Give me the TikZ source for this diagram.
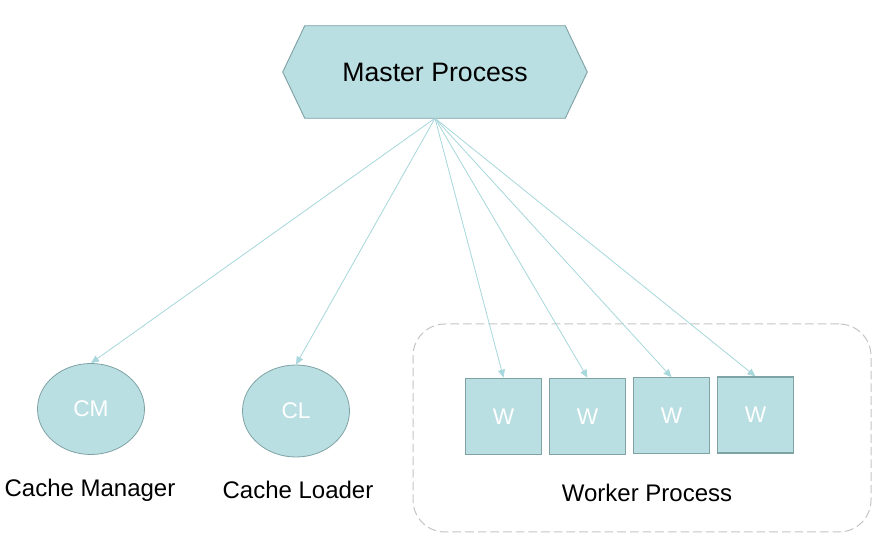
\documentclass[tikz,border=0pt]{standalone}
\usepackage{fontspec}
\setmainfont{Liberation Sans}
\usetikzlibrary{arrows.meta,positioning,shapes.geometric,backgrounds}
\definecolor{tealfill}{HTML}{BADFE2}
\definecolor{tealedge}{HTML}{7FA2A5}
\definecolor{tealline}{HTML}{A9D8DC}
\definecolor{dashgray}{HTML}{C4C4C4}
\tikzset{
  mastertext/.style={font=\fontsize{20}{24}\selectfont,text=black},
  label/.style={font=\fontsize{18}{21}\selectfont,text=black},
  inner/.style={font=\fontsize{17}{20}\selectfont,text=white},
  hexshape/.style={draw=tealedge,fill=tealfill,line width=0.7pt},
  cachenode/.style={ellipse,draw=tealedge,fill=tealfill,line width=0.6pt},
  worker/.style={rectangle,draw=tealedge,fill=tealfill,line width=0.9pt,minimum width=57pt,minimum height=57pt},
  group/.style={rounded corners=24pt,draw=dashgray,dash pattern=on 6.5pt off 3pt,line width=0.75pt},
  arr/.style={-{Triangle[length=6pt,width=5.2pt]},draw=tealline,fill=tealline,line width=0.6pt}
}
\begin{document}
\begin{tikzpicture}[x=0.75pt,y=-0.75pt]
\path[use as bounding box] (0,0) rectangle (879,559);
\node[mastertext,minimum width=195pt,minimum height=69pt] (master) at (435,72) {Master Process};
\begin{scope}[on background layer]
\draw[hexshape] (master.north west) -- (master.north east) -- ([xshift=16.5pt]master.east) -- (master.south east) -- (master.south west) -- ([xshift=-16.5pt]master.west) -- cycle;
\end{scope}
\node[cachenode,inner,minimum width=80.25pt,minimum height=68.25pt] (cm) at (91,409) {CM};
\node[cachenode,inner,minimum width=80.25pt,minimum height=69pt] (cl) at (296,411) {CL};
\node[label] (cmlabel) at (90,490) {Cache Manager};
\node[label] (cllabel) at (298,490) {Cache Loader};
\node[group,minimum width=343.5pt,minimum height=156pt] (pool) at (642,428) {};
\node[worker,inner] (w1) at (503.5,416.3) {W}; \node[worker,inner] (w2) at (587.5,416.3) {W}; \node[worker,inner] (w3) at (671.5,415.8) {W}; \node[worker,inner] (w4) at (755.5,415) {W};
\node[label] (poollabel) at (647,493) {Worker Process};
\draw[arr] (master.south) -- (cm.north); \draw[arr] (master.south) -- (cl.north);
\foreach \w in {w1,w2,w3,w4} \draw[arr] (master.south) -- (\w.north);
\end{tikzpicture}
\end{document}
